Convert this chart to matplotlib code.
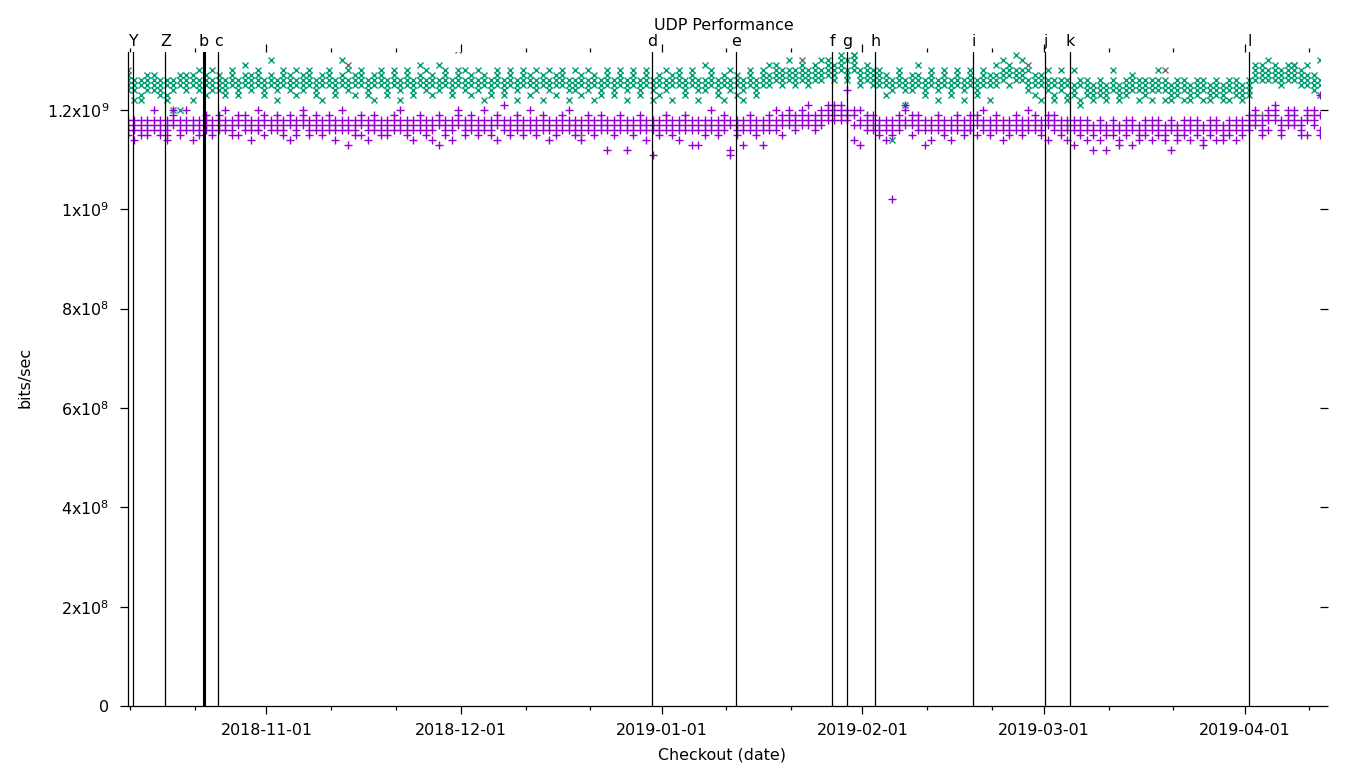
import matplotlib
matplotlib.use('Agg')
import matplotlib.pyplot as plt
import matplotlib.dates as mdates
from matplotlib.ticker import FixedLocator, FixedFormatter
from datetime import datetime, timedelta

# first checkout run; one column of results per day after that
FIRST_RUN = datetime(2018, 10, 10, 15, 0)

# levels per day, one letter per result: a = 1.10e9, b = 1.11e9 ... w = 1.32e9
PURPLE = [
    "ihgf", "ihge", "higf", "ihgf", "hikg", "higf", "hgife", "hijk", "hgif", "ihgk",
    "hige", "ihgf", "higj", "ihgf", "hijg", "higk", "ihgf", "hijf", "ighj", "hige",
    "ihgk", "hijf", "igh", "hijg", "ihgf", "hije", "ighf", "hijk", "hgif", "ihgj",
    "higf", "ihjg", "hgie", "ihgk", "higd", "ihgf", "hijf", "hgie", "ihgj", "higf",
    "ihgf", "hijg", "ihgk", "higf", "hgie", "ihjg", "higf", "ihge", "hijd", "ihgf",
    "hige", "ihjk", "higf", "ihgj", "hgif", "ihgk", "higf", "hije", "ihgl", "higf",
    "ihgj", "hgif", "ihgk", "higf", "hijg", "ihge", "hgif", "ihgj", "higk", "ihgf",
    "hige", "ihjg", "higf", "ihgj", "hgic", "ihgf", "hijg", "ihgc", "higf", "ihgj",
    "hige", "ihgb", "higf", "ihjg", "hgif", "ihge", "hijg", "higd", "ihgd", "hgif",
    "ihgk", "higf", "ihgj", "hibc", "ihgf", "hidg", "ihgj", "higf", "ihgd", "hijg",
    "ihgk", "hijf", "ihjk", "hijg", "ihkj", "hijl", "ijhg", "ijkh", "ikjl", "ijkl",
    "jkli", "ikjo", "jkhe", "ihkd", "ijhg", "ihgj", "higf", "hige", "ihgf", "hijg",
    "ihlk", "hijf", "ihgj", "higd", "ihge", "hijg", "ihgf", "hige", "ihgj", "higf",
    "ihgj", "hijf", "ihgk", "higf", "hijg", "ihge", "hgif", "ihgj", "higf", "ihgk",
    "hijg", "ihgf", "hije", "ihgj", "ihgf", "hige", "higd", "ihgf", "hige", "hgfc",
    "ihge", "hgfc", "ihgf", "hged", "ihgf", "higd", "hgfe", "ihgf", "hgie", "ihgf",
    "hgfe", "ihgc", "hgfe", "ihgf", "hgie", "ihgf", "hged", "higf", "ihge", "hgfe",
    "ihgf", "hgie", "ihgf", "ihjg", "ijhk", "hgif", "jkig", "ijkl", "hgif", "ijkh",
    "jkih", "ihgf", "jkif", "hijk", "jgfn",
]
GREEN = [
    "rpqo", "qpom", "pqnm", "qopr", "rqpo", "pqon", "qpmn", "pqok", "qprk", "opqr",
    "rqpm", "pqos", "qprn", "pqos", "rpqo", "qpon", "pqrs", "opqn", "qprt", "rpqo",
    "pqrs", "qopn", "rpqu", "pqom", "qrps", "oprq", "pqns", "qrpo", "rpqs", "qpon",
    "pqrm", "qprs", "opqn", "rqpu", "pqos", "qprn", "rpqs", "pqon", "qrpm", "pqrs",
    "oqpn", "qprs", "pqom", "rqps", "pqon", "qrpt", "opqs", "pqrn", "qpot", "rpqs",
    "pqon", "qrps", "opqs", "pqrn", "qpos", "rpqm", "pqon", "qprs", "opqn", "qrps",
    "pqom", "qprs", "rpqn", "opqs", "pqrm", "qpos", "rpqn", "pqrs", "qpom", "opqs",
    "pqrn", "qpos", "rpqm", "pqon", "qprs", "opqn", "pqrs", "qpom", "rpqs", "pqon",
    "qprs", "opqm", "pqrn", "qpos", "rpqm", "pqrs", "opqn", "qrps", "pqom", "qpot",
    "rpqs", "pqon", "qprm", "opqs", "qrpn", "pqom", "rqps", "pqon", "qprs", "rpqt",
    "qrst", "rpqs", "qrsu", "pqrs", "rsqt", "qrsp", "rstq", "qrsu", "stru", "rsqt",
    "stuv", "rsqu", "stuv", "rqsp", "qrst", "rsqp", "pqrs", "qprn", "pqoe", "qprs",
    "pqlo", "qpro", "rpqt", "pqon", "qprs", "opqm", "pqrs", "qpon", "rpqs", "pqom",
    "qprs", "pqon", "rpqs", "qprm", "pqrt", "qrsu", "rstp", "qrsv", "rsuq", "qpos",
    "rpqn", "qprm", "pqos", "qpnm", "opqs", "pqnm", "onps", "pqml", "opqn", "nopm",
    "pqon", "onpm", "pqos", "opnm", "qpon", "pqro", "opqm", "pqon", "qpom", "opqs",
    "pqom", "nopm", "opqn", "pqom", "opnm", "qpon", "pqom", "opnm", "qpon", "pnom",
    "opqm", "pqon", "nopm", "opqn", "qrst", "rstq", "qrsu", "rsqt", "qprs", "rsqt",
    "qrst", "pqrs", "qprt", "rqpo", "qpun",
]
# results of the other runs that show through (day index, level letter)
GRAY_X = [(0, "s"), (34, "t"), (51, "w"), (104, "u"), (112, "v"), (139, "t"), (160, "s"), (180, "t")]
GRAY_PLUS = [(20, "g"), (70, "f"), (130, "g"), (175, "j")]
# single low result
PURPLE_LOW_DAY = [118]
PURPLE_LOW_VAL = [1.02e9]

EVENT_LABELS = ["Y", "Z", "b", "c", "d", "e", "f", "g", "h", "i", "j", "k", "l"]
EVENT_TIMES = ["2018-10-11 10:40", "2018-10-16 09:15", "2018-10-22 08:30", "2018-10-24 13:30",
               "2018-12-30 13:30", "2019-01-12 12:00", "2019-01-27 08:30", "2019-01-29 16:00",
               "2019-02-02 23:45", "2019-02-18 03:00", "2019-03-01 05:30", "2019-03-05 02:00",
               "2019-04-01 17:15"]

YTICKS = [0, 2e8, 4e8, 6e8, 8e8, 1e9, 1.2e9]
YTICK_LABELS = [r"$\mathregular{0}$", r"$\mathregular{2x10^{8}}$", r"$\mathregular{4x10^{8}}$",
                r"$\mathregular{6x10^{8}}$", r"$\mathregular{8x10^{8}}$", r"$\mathregular{1x10^{9}}$",
                r"$\mathregular{1.2x10^{9}}$"]

C_PURPLE = '#9400D3'
C_GREEN = '#009E73'
C_GRAY = '#6e6e6e'
FS = 11.4
MS_PLUS, MS_X, MEW = 5.6, 5.0, 1.0


def level(ch):
    return (1.10 + 0.01 * (ord(ch) - ord('a'))) * 1e9


def day(k):
    return FIRST_RUN + timedelta(days=k)


def expand(days):
    xs, ys = [], []
    for k, s in enumerate(days):
        for ch in s:
            xs.append(day(k))
            ys.append(level(ch))
    return xs, ys


fig = plt.figure(figsize=(13.6, 7.68), dpi=100)
ax = fig.add_axes([128 / 1360, 62 / 768, 1192 / 1360, 654 / 768])

gx = [day(k) for k, _ in GRAY_X]
gy = [level(c) for _, c in GRAY_X]
ax.plot(gx, gy, ls='none', marker='x', ms=MS_X, mew=MEW, color=C_GRAY, antialiased=False)
gx = [day(k) for k, _ in GRAY_PLUS]
gy = [level(c) for _, c in GRAY_PLUS]
ax.plot(gx, gy, ls='none', marker='+', ms=MS_PLUS, mew=MEW, color=C_GRAY, antialiased=False)

x, y = expand(GREEN)
ax.plot(x, y, ls='none', marker='x', ms=MS_X, mew=MEW, color=C_GREEN, antialiased=False)
x, y = expand(PURPLE)
x += [day(k) for k in PURPLE_LOW_DAY]
y += PURPLE_LOW_VAL
ax.plot(x, y, ls='none', marker='+', ms=MS_PLUS, mew=MEW, color=C_PURPLE, antialiased=False)

# ── event markers ───────────────────────────────────────────
for lbl, t in zip(EVENT_LABELS, EVENT_TIMES):
    t = datetime.strptime(t, "%Y-%m-%d %H:%M")
    ax.axvline(t, color='black', lw=2.2 if lbl == 'b' else 0.9, zorder=5)
    ax.annotate(lbl, xy=(t, 1), xycoords=('data', 'axes fraction'),
                xytext=(0, 4.5), textcoords='offset points',
                ha='center', va='baseline', fontsize=FS)

ax.set_xlim(day(0), day(len(PURPLE) - 1))
ax.set_ylim(0, 1.3167e9)

ax.xaxis.set_major_locator(mdates.MonthLocator())
ax.xaxis.set_minor_locator(mdates.DayLocator(bymonthday=[11, 21]))
ax.xaxis.set_major_formatter(mdates.DateFormatter('%Y-%m-%d'))
ax.yaxis.set_major_locator(FixedLocator(YTICKS))
ax.yaxis.set_major_formatter(FixedFormatter(YTICK_LABELS))

for side in ['top', 'right']:
    ax.spines[side].set_visible(False)
for side in ['left', 'bottom']:
    ax.spines[side].set_linewidth(0.9)

ax.tick_params(which='both', direction='out', top=True, right=True,
               labeltop=False, labelright=False, width=0.9, labelsize=FS)
ax.tick_params(which='major', length=5.5)
ax.tick_params(which='minor', length=2.8)
ax.tick_params(axis='y', pad=8)
ax.tick_params(axis='x', pad=7)

fig.text(724 / 1360, 1 - 25 / 768, 'UDP Performance', ha='center', va='center', fontsize=FS)
fig.text(25 / 1360, 1 - 377 / 768, 'bits/sec', ha='center', va='center', rotation=90, fontsize=FS)
fig.text(722 / 1360, 1 - 755 / 768, 'Checkout (date)', ha='center', va='center', fontsize=FS)

fig.savefig('out.png', dpi=100, facecolor='white')
